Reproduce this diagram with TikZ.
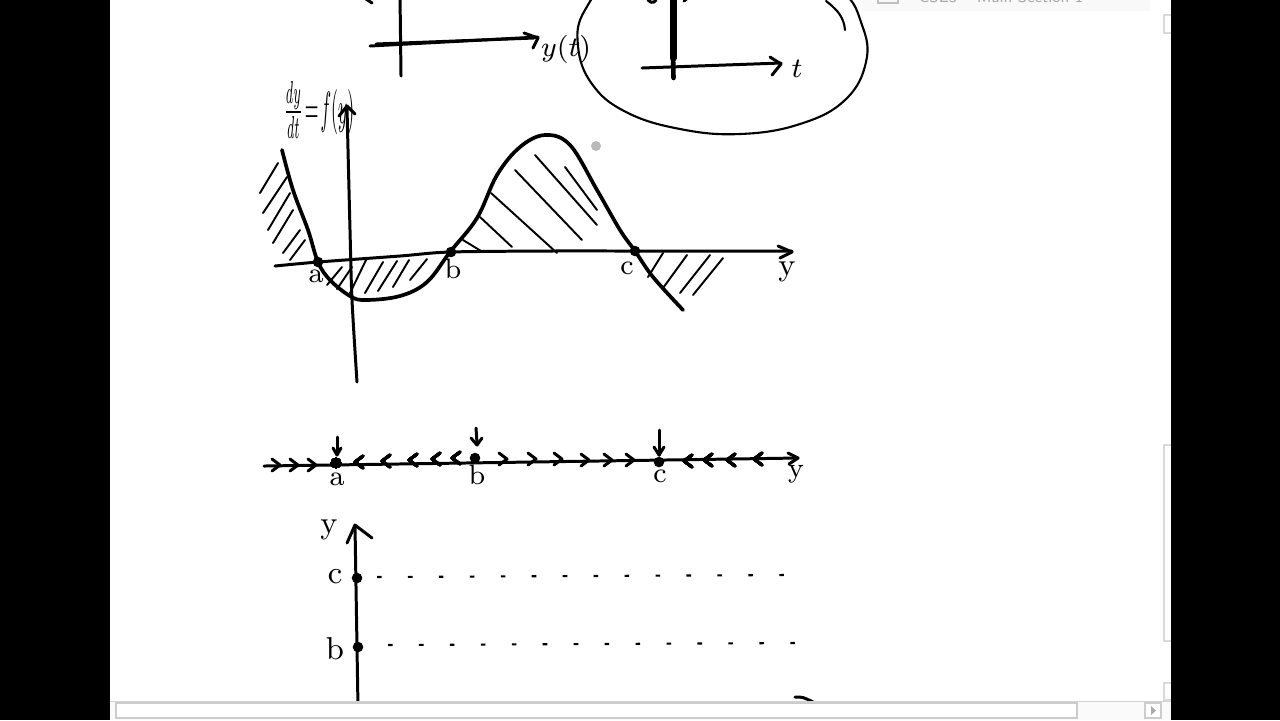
\documentclass[tikz,border=0pt]{standalone}
\usetikzlibrary{arrows.meta}
\newcommand\chevright[2]{\draw[ink] (#1-8,#2-6) -- (#1,#2) -- (#1-8,#2+6);}
\newcommand\chevleft[2]{\draw[ink] (#1+8,#2-6) -- (#1,#2) -- (#1+8,#2+6);}
\begin{document}
\begin{tikzpicture}[x=0.01cm,y=-0.01cm,
  ink/.style={line width=0.85pt, line cap=round, line join=round},
  thinink/.style={line width=0.6pt, line cap=round, line join=round},
  curveink/.style={line width=1.05pt, line cap=round, line join=round},
  hatch/.style={line width=0.55pt, line cap=round},
  dotpt/.style={circle, fill=black, inner sep=0pt, minimum size=3pt},
  lbl/.style={font=\fontsize{8}{9}\selectfont, inner sep=0pt},
  ]
\useasboundingbox (0,0) rectangle (1280,720);
\clip (0,0) rectangle (1280,720);
\fill[white] (0,0) rectangle (1280,720);

% ---------- top header (cut off) ----------
\fill[gray!5] (862,0) rectangle (1150,11);
\draw[gray!50, line width=0.4pt] (878,-3) rectangle (898,3);
\node[anchor=base west, text=gray!70, font=\sffamily\fontsize{4.5}{5}\selectfont, inner sep=0pt] (hdr) at (918,2.5) {CSE5 -- Main Section 1};
\draw[gray!30, line width=0.4pt] (1164,15) rectangle (1172,33);

% ---------- top-left sketch ----------
\draw[ink] (366,-1) -- (372,3);
\draw[ink] (400,-5) -- (401,76);
\draw[ink] (370,46) -- (538,37);
\draw[ink] (376,44) -- (534,38);
\draw[ink] (524,33) -- (538,38) -- (533,48);
\node[lbl, font=\fontsize{8.5}{10}\selectfont] (yt) at (566,49) {$y(t)$};

% ---------- ellipse sketch ----------
\draw[thinink] plot[smooth cycle, tension=0.7] coordinates {(578,46) (592,84) (626,112) (680,129) (740,134) (800,124) (845,100) (866,62) (862,25) (840,-10) (780,-35) (700,-42) (620,-25) (585,10)};
\draw[thinink] (826,1) .. controls (838,10) and (844,18) .. (845,30);
\draw[line width=2pt, line cap=round] (673,-5) -- (673,58);
\draw[line width=1.3pt, line cap=round] (673,52) -- (673.5,78);
\draw[ink] (647,-3) .. controls (648,3) and (654,4) .. (656,0);
\draw[ink] (684,1) -- (690,-4);
\draw[ink] (642,68) -- (781,63);
\draw[ink] (770,57) -- (781,64) -- (772,75);
\node[lbl] (tlab) at (797,69) {$t$};

% ---------- f(y) graph ----------
\node[inner sep=0pt] (title) at (319,110) {\resizebox{20pt}{12pt}{$\frac{dy}{dt}\!=\!f(y)$}};
\draw[ink] plot[smooth] coordinates {(357,382) (352,300) (350,230) (347,108)};
\draw[ink] (339,116) -- (347,106) -- (355,114);
\draw[ink] plot[smooth] coordinates {(275,266) (318,262) (400,256) (450,252) (550,251) (635,251) (792,251)};
\draw[ink] (778,246) -- (792,252) -- (780,258);
\draw[curveink] plot[smooth, tension=0.6] coordinates {(282,150) (293,190) (308,230) (318,262) (330,280) (350,296) (365,300) (400,296) (427,282) (450,252) (477,218) (497,175) (520,147) (545,135) (570,145) (597,190) (620,230) (635,251) (653,277) (683,310)};
% hatching left of a
\foreach \a/\b/\c/\d in {260/193/278/163, 263/213/287/177, 268/230/290/193, 273/243/293/210, 283/253/300/230, 290/260/305/240}
  \draw[hatch] (\a,\b) -- (\c,\d);
% hatching between a and b
\foreach \a/\b/\c/\d in {327/285/342/267, 337/289/352/267, 350/293/367/258, 365/293/383/262, 378/291/397/261, 393/287/409/260, 410/280/427/259}
  \draw[hatch] (\a,\b) -- (\c,\d);
% hatching between b and c
\foreach \a/\b/\c/\d in {463/240/481/251, 480/217/512/247, 491/193/557/253, 515/170/582/240, 535/155/597/225, 565/167/597/210}
  \draw[hatch] (\a,\b) -- (\c,\d);
% hatching right of c
\foreach \a/\b/\c/\d in {648/277/663/253, 663/288/687/255, 680/293/710/255, 693/295/723/258}
  \draw[hatch] (\a,\b) -- (\c,\d);
\fill[gray!55] (596,146) circle (5);
\node[dotpt] (ga) at (318,262) {};
\node[dotpt] (gb) at (451,252) {};
\node[dotpt] (gc) at (635,251) {};
\node[lbl] (gal) at (316,276) {a};
\node[lbl] (gbl) at (453,269) {b};
\node[lbl] (gcl) at (627,268) {c};
\node[lbl, font=\fontsize{9}{10}\selectfont] (gyl) at (787,272) {y};

% ---------- phase line ----------
\draw[ink] (264,466) -- (798,458);
\draw[ink] (788,453) -- (798,458) -- (789,464);
\foreach \x/\y in {280/465, 298/465, 316/465, 507/459, 536/459, 562/459, 589/460, 612/460, 634/460}
  \chevright{\x}{\y}
\foreach \x/\y in {355/462, 382/461, 409/460, 432/459, 452/458, 684/461, 704/460, 727/460, 754/459}
  \chevleft{\x}{\y}
\node[dotpt] (pa) at (336,463) {};
\node[dotpt] (pb) at (475,458) {};
\node[dotpt] (pc) at (659,462) {};
\draw[ink] (337,437) -- (337,454); \draw[ink] (333,448) -- (337,455) -- (341,448);
\draw[ink] (476,428) -- (477,443); \draw[ink] (471,438) -- (477,445) -- (482,438);
\draw[ink] (659,430) -- (659,455); \draw[ink] (654,447) -- (659,455) -- (664,447);
\node[lbl] (pal) at (337,479) {a};
\node[lbl] (pbl) at (477,475) {b};
\node[lbl] (pcl) at (660,476) {c};
\node[lbl] (pyl) at (796,474) {y};

% ---------- solution plot ----------
\draw[ink] (358,708) -- (355,526);
\draw[ink] (347,543) -- (355,525) -- (372,538);
\node[lbl, font=\fontsize{9}{10}\selectfont] (sy) at (329,530) {y};
\node[dotpt] (sc) at (357,578) {};
\node[dotpt] (sb) at (358,647) {};
\node[lbl, font=\fontsize{9}{10}\selectfont] (scl) at (335,577) {c};
\node[lbl, font=\fontsize{9}{10}\selectfont] (sbl) at (335,649) {b};
\draw[line width=0.6pt, dash pattern=on 1.3pt off 7.5pt] (377,577) -- (786,575);
\draw[line width=0.6pt, dash pattern=on 1.3pt off 7.5pt] (388,645) -- (796,643);
\draw[ink] (795,697) .. controls (803,697) .. (813,702);

% ---------- window chrome ----------
\fill[gray!4] (110,701) rectangle (1171,720);
\draw[gray!35, line width=0.4pt] (110,701.5) -- (1171,701.5);
\fill[white] (116,703) rectangle (1077,718);
\draw[gray!40, line width=0.4pt] (116,703) rectangle (1077,718);
\fill[white] (1145,703) rectangle (1161,718);
\draw[gray!40, line width=0.4pt] (1145,703) rectangle (1161,718);
\fill[gray!65] (1151,706) -- (1156,710.5) -- (1151,715) -- cycle;
\draw[gray!30, line width=0.4pt] (1164,445) rectangle (1172,641);
\draw[gray!30, line width=0.4pt] (1164,683) rectangle (1172,700);

\fill[black] (0,0) rectangle (110,720);
\fill[black] (1171,0) rectangle (1280,720);
\end{tikzpicture}
\end{document}
